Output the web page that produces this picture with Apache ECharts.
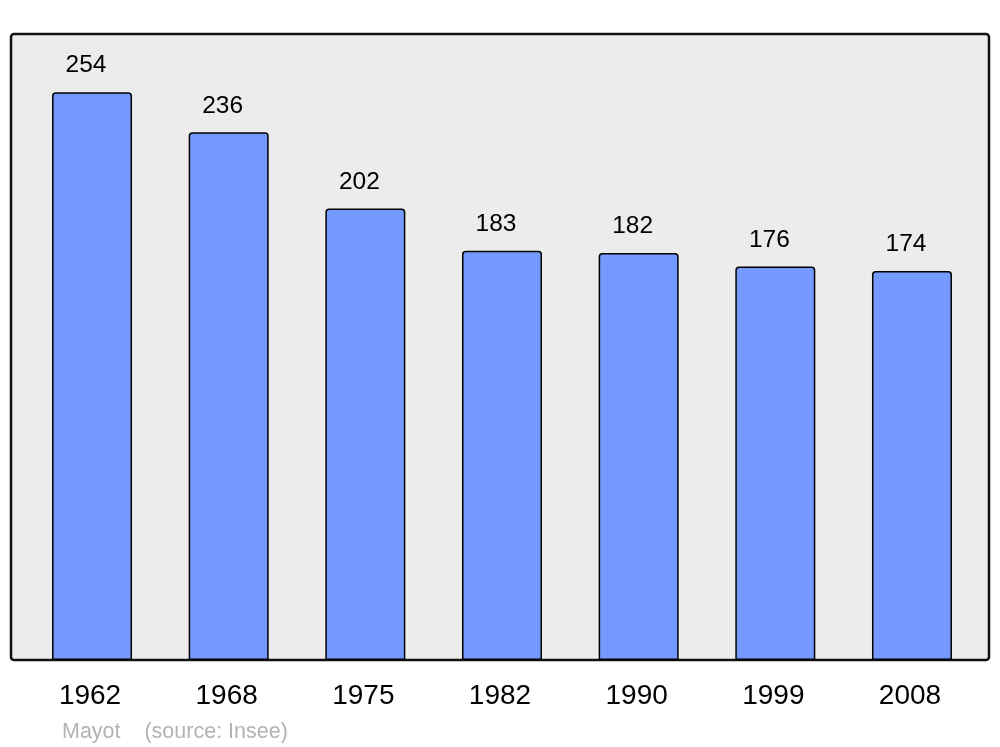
<!DOCTYPE html>
<html>
<head>
<meta charset="utf-8">
<script src="https://cdn.jsdelivr.net/npm/echarts@6/dist/echarts.min.js"></script>
<style>html,body{margin:0;padding:0;background:#fff;}#c{width:1000px;height:747px;}</style>
</head>
<body>
<div id="c"></div>
<script>
const years = ['1962','1968','1975','1982','1990','1999','2008'];
const population = [254, 236, 202, 183, 182, 176, 174];
const footerText = 'Mayot    (source: Insee)';

const chart = echarts.init(document.getElementById('c'), null, {renderer: 'canvas'});
chart.setOption({
  animation: false,
  backgroundColor: '#ffffff',
  textStyle: {fontFamily: 'Liberation Sans, Arial, sans-serif'},
  graphic: [{
    type: 'rect', z: -10, silent: true,
    shape: {x: 11, y: 34, width: 978, height: 626, r: 3},
    style: {fill: '#ececec', stroke: '#111111', lineWidth: 2.5}
  }],
  title: {
    text: footerText, left: 57, top: 716,
    textStyle: {color: '#b3b3b3', fontSize: 21.5, fontWeight: 'normal', fontFamily: 'Liberation Sans, Arial, sans-serif'}
  },
  grid: {left: 23.7, right: 19.7, top: 34, bottom: 87, containLabel: false},
  xAxis: {
    type: 'category', data: years,
    axisLine: {show: false}, axisTick: {show: false},
    axisLabel: {color: '#000', fontSize: 28, margin: 22, fontFamily: 'Liberation Sans, Arial, sans-serif',
      padding: [0, 4, 0, 0]}
  },
  yAxis: {
    type: 'value', min: 0, max: 280,
    show: false, splitLine: {show: false}
  },
  series: [{
    type: 'bar', data: population, barWidth: 80,
    itemStyle: {color: '#7499ff', borderColor: '#000', borderWidth: 1.5, borderRadius: [3,3,0,0]},
    label: {show: true, position: 'top', distance: 14, offset: [-6, 0], color: '#000', fontSize: 24.5, fontFamily: 'Liberation Sans, Arial, sans-serif'}
  }]
});
</script>
</body>
</html>
